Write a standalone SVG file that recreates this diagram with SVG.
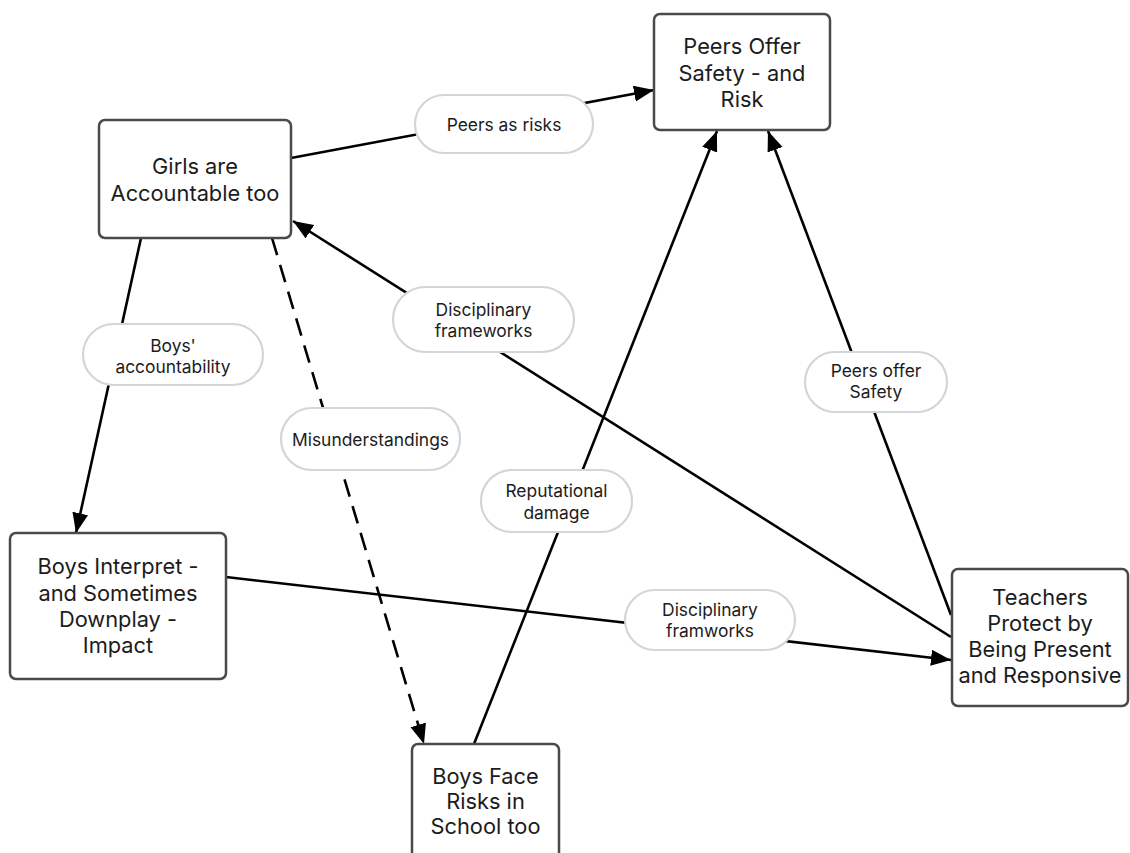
<svg xmlns="http://www.w3.org/2000/svg" width="1130" height="853" viewBox="0 0 1130 853">
<style>
.node{fill:#fff;stroke:#4a4a4a;stroke-width:2.5}
.pill{fill:#fff;stroke:#d2d6da;stroke-width:2.2}
.nt{font-family:Inter,"Liberation Sans",sans-serif;font-size:21.8px;fill:#1c1c1c;text-anchor:middle}
.pt{font-family:Inter,"Liberation Sans",sans-serif;font-size:17.4px;fill:#1c1c1c;text-anchor:middle}
.edge{fill:none;stroke:#000;stroke-width:2.6}
.dash{stroke-dasharray:18 10}
</style>
<defs>
<marker id="arr" markerUnits="userSpaceOnUse" markerWidth="22" markerHeight="18" refX="20" refY="8" orient="auto">
<path d="M0,0 L20,8 L0,16 Z" fill="#000"/>
</marker>
</defs>
<rect width="1130" height="853" fill="#fff"/>
<g id="connectors">
<path class="edge" d="M291,158 L654,90" marker-end="url(#arr)"/>
<path class="edge" d="M951,637 L293,221" marker-end="url(#arr)"/>
<path class="edge" d="M951,615 L768,131" marker-end="url(#arr)"/>
<path class="edge" d="M474,744 L717,131" marker-end="url(#arr)"/>
<path class="edge" d="M141,238 L76,533" marker-end="url(#arr)"/>
<path class="edge dash" d="M272,238 L424,744" marker-end="url(#arr)"/>
<path class="edge" d="M226,577 L951,660" marker-end="url(#arr)"/>
</g>
<g id="label-peers-as-risks">
<rect class="pill" x="415" y="95" width="178" height="58" rx="29"/>
<text class="pt" x="504" y="131">Peers as risks</text>
</g>
<g id="label-disciplinary-frameworks">
<rect class="pill" x="393" y="287" width="181" height="65" rx="32.5"/>
<text class="pt" x="483.5" y="316">Disciplinary</text>
<text class="pt" x="483.5" y="337">frameworks</text>
</g>
<g id="label-peers-offer-safety">
<rect class="pill" x="805" y="352" width="142" height="60" rx="30"/>
<text class="pt" x="876" y="377">Peers offer</text>
<text class="pt" x="876" y="398">Safety</text>
</g>
<g id="label-boys-accountability">
<rect class="pill" x="83" y="324" width="180" height="61" rx="30.5"/>
<text class="pt" x="173" y="352">Boys'</text>
<text class="pt" x="173" y="373">accountability</text>
</g>
<g id="label-misunderstandings">
<rect class="pill" x="281" y="408" width="179" height="62" rx="31"/>
<text class="pt" x="370.5" y="446">Misunderstandings</text>
</g>
<g id="label-reputational-damage">
<rect class="pill" x="481" y="470" width="151" height="62" rx="31"/>
<text class="pt" x="556.5" y="497">Reputational</text>
<text class="pt" x="556.5" y="519">damage</text>
</g>
<g id="label-disciplinary-framworks">
<rect class="pill" x="625" y="590" width="170" height="60" rx="30"/>
<text class="pt" x="710" y="616">Disciplinary</text>
<text class="pt" x="710" y="637">framworks</text>
</g>
<g id="node-girls">
<rect class="node" x="99" y="120" width="192" height="118" rx="6"/>
<text class="nt" x="195" y="174">Girls are</text>
<text class="nt" x="195" y="201">Accountable too</text>
</g>
<g id="node-peers">
<rect class="node" x="654" y="14" width="176" height="116" rx="6"/>
<text class="nt" x="742" y="54">Peers Offer</text>
<text class="nt" x="742" y="81">Safety - and</text>
<text class="nt" x="742" y="107">Risk</text>
</g>
<g id="node-boys-interpret">
<rect class="node" x="10" y="533" width="216" height="146" rx="6"/>
<text class="nt" x="118" y="574">Boys Interpret -</text>
<text class="nt" x="118" y="601">and Sometimes</text>
<text class="nt" x="118" y="627">Downplay -</text>
<text class="nt" x="118" y="653">Impact</text>
</g>
<g id="node-teachers">
<rect class="node" x="952" y="569" width="176" height="137" rx="6"/>
<text class="nt" x="1040" y="605">Teachers</text>
<text class="nt" x="1040" y="631">Protect by</text>
<text class="nt" x="1040" y="657">Being Present</text>
<text class="nt" x="1040" y="683">and Responsive</text>
</g>
<g id="node-boys-face">
<rect class="node" x="412" y="744" width="147" height="130" rx="6"/>
<text class="nt" x="485.5" y="784">Boys Face</text>
<text class="nt" x="485.5" y="809">Risks in</text>
<text class="nt" x="485.5" y="834">School too</text>
</g>
</svg>
